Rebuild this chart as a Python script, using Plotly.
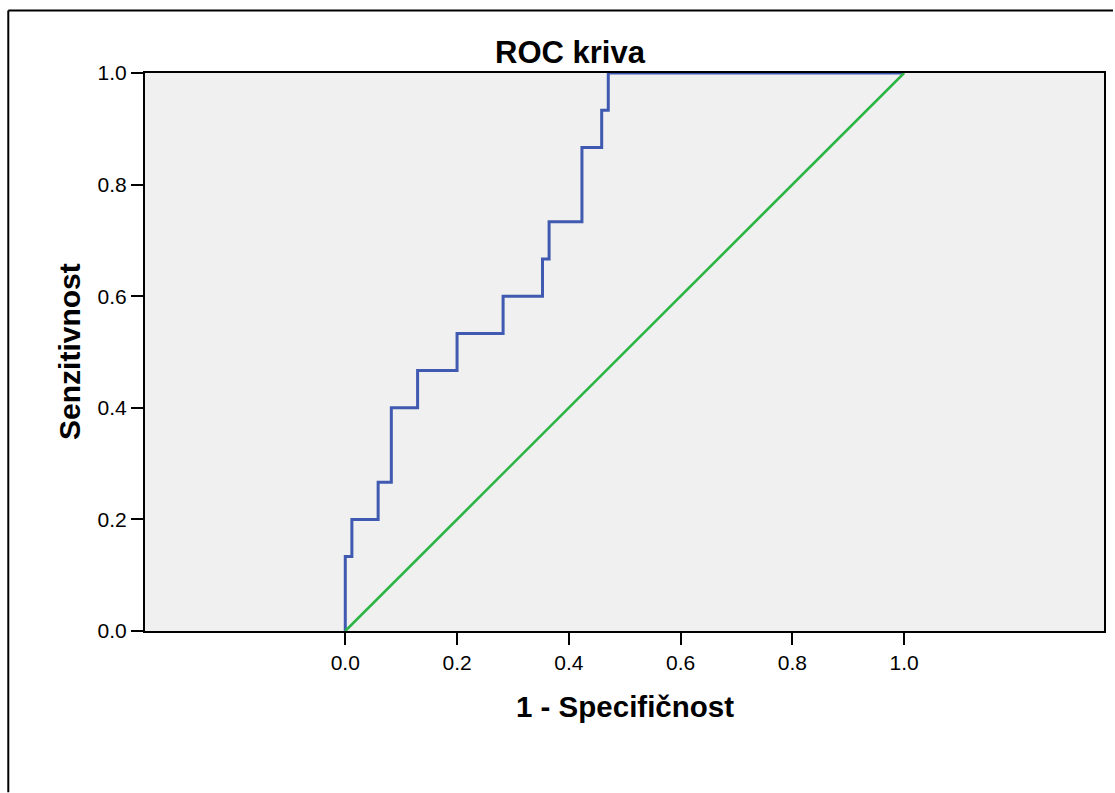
import plotly.graph_objects as go

# ROC curve corners (1 - specificity, sensitivity)
fpr = [0.0, 0.0, 0.0118, 0.0588, 0.0824, 0.1294, 0.2, 0.2824, 0.3529,
       0.3647, 0.4235, 0.4588, 0.4706, 1.0]
tpr = [0.0, 0.1333, 0.2, 0.2667, 0.4, 0.4667, 0.5333, 0.6, 0.6667,
       0.7333, 0.8667, 0.9333, 1.0, 1.0]

# Reference (chance) line
ref_x = [0.0, 1.0]
ref_y = [0.0, 1.0]

tick_vals = [0.0, 0.2, 0.4, 0.6, 0.8, 1.0]
tick_text = ["0.0", "0.2", "0.4", "0.6", "0.8", "1.0"]

W, H = 1115, 793
L, R, T, B = 145, 9, 73, 161.5
pw, ph = W - L - R, H - T - B

FONT = "Liberation Sans, Arial, sans-serif"


def px_x(p):
    return (p - L) / pw


def px_y(p):
    return (H - B - p) / ph


fig = go.Figure()
fig.add_trace(go.Scatter(
    x=fpr, y=tpr, mode="lines", line=dict(color="#3F5AB0", width=3, shape="hv"),
    showlegend=False, hoverinfo="skip"))
fig.add_trace(go.Scatter(
    x=ref_x, y=ref_y, mode="lines", line=dict(color="#2BB544", width=2.6),
    showlegend=False, hoverinfo="skip"))

x_min = -200.7 / 560
x_max = x_min + pw / 560

fig.update_layout(
    width=W, height=H,
    margin=dict(l=L, r=R, t=T, b=B, pad=0),
    paper_bgcolor="white", plot_bgcolor="#F0F0F0",
    font=dict(family=FONT, color="black"),
    xaxis=dict(range=[x_min, x_max], tickvals=tick_vals, ticktext=tick_text,
               ticks="outside", ticklen=12, tickwidth=2, tickcolor="black",
               showline=True, linecolor="black", linewidth=2, mirror=True,
               showgrid=False, zeroline=False, tickfont=dict(size=21, family=FONT)),
    yaxis=dict(range=[0, 1], tickvals=tick_vals, ticktext=tick_text,
               ticks="outside", ticklen=12, tickwidth=2, tickcolor="black",
               showline=True, linecolor="black", linewidth=2, mirror=True,
               showgrid=False, zeroline=False, tickfont=dict(size=21, family=FONT)),
    annotations=[
        dict(text="<b>ROC kriva</b>", x=px_x(571), y=px_y(52), xref="paper", yref="paper",
             showarrow=False, xanchor="center", yanchor="middle",
             font=dict(size=31, family=FONT)),
        dict(text="<b>1 - Specifičnost</b>", x=px_x(626), y=px_y(707), xref="paper",
             yref="paper", showarrow=False, xanchor="center", yanchor="middle",
             font=dict(size=29.5, family=FONT)),
        dict(text="<b>Senzitivnost</b>", x=px_x(70), y=px_y(352), xref="paper",
             yref="paper", showarrow=False, xanchor="center", yanchor="middle",
             textangle=-90, font=dict(size=30, family=FONT)),
    ],
    shapes=[
        dict(type="line", xref="paper", yref="paper", x0=px_x(8), x1=px_x(1115),
             y0=px_y(10.5), y1=px_y(10.5), line=dict(color="black", width=2)),
        dict(type="line", xref="paper", yref="paper", x0=px_x(8), x1=px_x(8),
             y0=px_y(10.5), y1=px_y(793), line=dict(color="black", width=2)),
    ],
)

fig.write_html("out.html")
